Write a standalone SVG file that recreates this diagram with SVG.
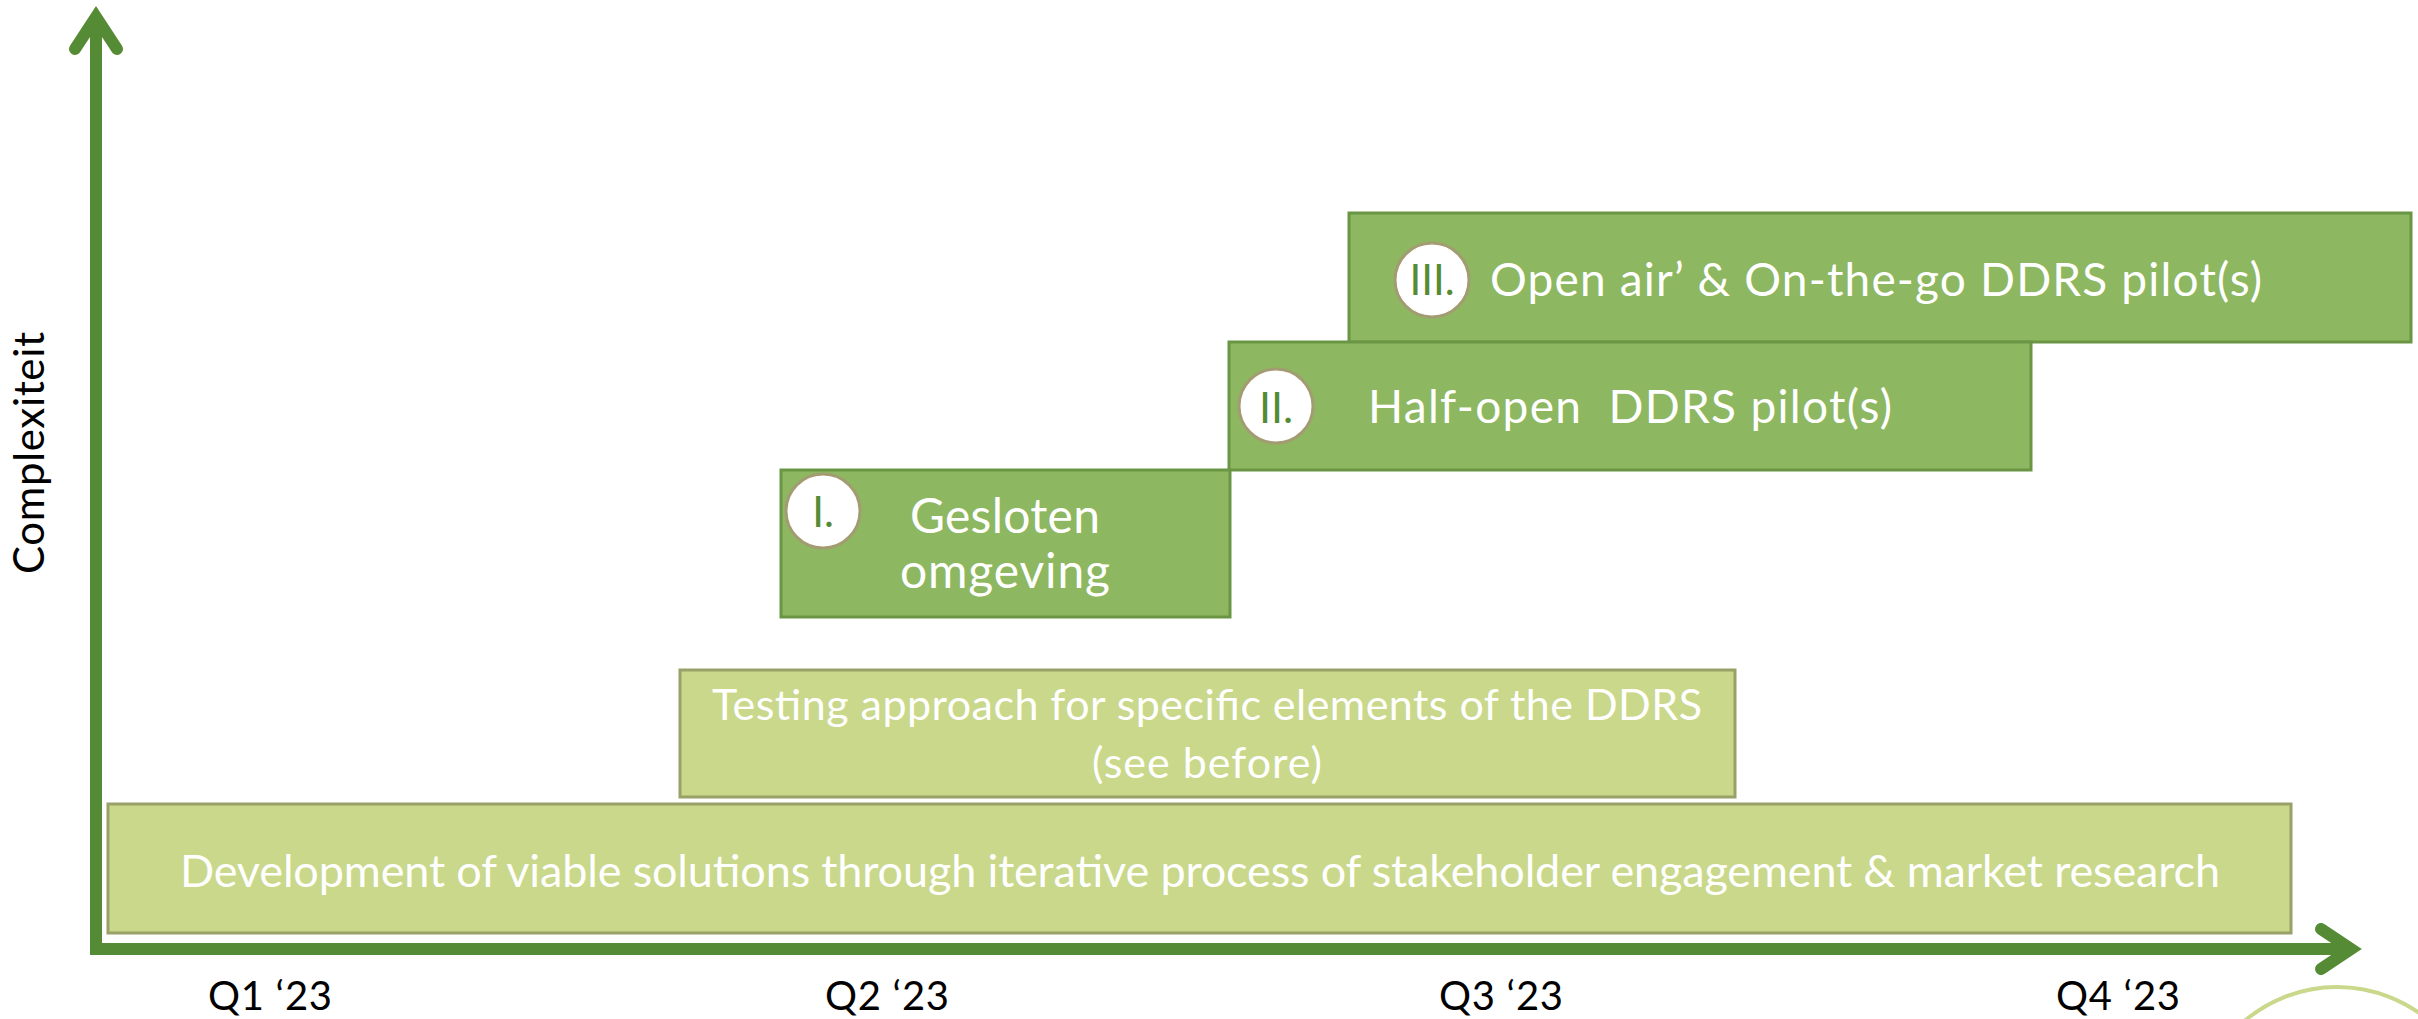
<svg xmlns="http://www.w3.org/2000/svg" width="2418" height="1019" viewBox="0 0 2418 1019">
<style>
.axis{fill:none;stroke:#568B36;stroke-width:12;stroke-linecap:round;stroke-linejoin:miter}
.dark{fill:#8DB760;stroke:#6A9545;stroke-width:3}
.light{fill:#C9D88A;stroke:#99A168;stroke-width:3}
.num{fill:#FFFFFF;stroke:#A39C72;stroke-width:3}
.wt{font-family:Lato,"Liberation Sans",sans-serif;fill:#FFFFFF;text-anchor:middle}
.nt{font-family:Lato,"Liberation Sans",sans-serif;fill:#568B36;text-anchor:middle}
.bt{font-family:Lato,"Liberation Sans",sans-serif;fill:#000000}
</style>
<rect width="2418" height="1019" fill="#FFFFFF"/>
<circle cx="2337" cy="1130" r="143" fill="none" stroke="#C9D88A" stroke-width="4"/>
<g id="connectors">
  <line class="axis" x1="96" y1="954" x2="96" y2="20" style="stroke-linecap:butt"/>
  <polyline class="axis" points="75,49 96,17 117,49"/>
  <line class="axis" x1="90" y1="949" x2="2352" y2="949" style="stroke-linecap:butt"/>
  <polyline class="axis" points="2321,929 2351,949 2321,969"/>
</g>
<g id="node-development">
  <rect class="light" x="108" y="804" width="2183" height="129"/>
  <text class="wt" x="1200" y="887" font-size="45" textLength="2040">Development of viable solutions through iterative process of stakeholder engagement &amp; market research</text>
</g>
<g id="node-testing">
  <rect class="light" x="680" y="670" width="1055" height="127"/>
  <text class="wt" x="1207" y="720" font-size="43" textLength="990">Testing approach for specific elements of the DDRS</text>
  <text class="wt" x="1207" y="778" font-size="43" textLength="230">(see before)</text>
</g>
<g id="node-III">
  <rect class="dark" x="1349" y="213" width="1062" height="129"/>
  <circle class="num" cx="1432" cy="280" r="37"/>
  <text class="nt" x="1432" y="295" font-size="42">III.</text>
  <text class="wt" x="1876" y="296" font-size="46" textLength="772">Open air’ &amp; On-the-go DDRS pilot(s)</text>
</g>
<g id="node-II">
  <rect class="dark" x="1229" y="342" width="802" height="128"/>
  <circle class="num" cx="1276" cy="406" r="37"/>
  <text class="nt" x="1276" y="423" font-size="43">II.</text>
  <text class="wt" x="1630" y="423" font-size="46" textLength="524">Half-open&#160; DDRS pilot(s)</text>
</g>
<g id="node-I">
  <rect class="dark" x="781" y="470" width="449" height="147"/>
  <circle class="num" cx="823" cy="511" r="37"/>
  <text class="nt" x="823" y="527" font-size="42">I.</text>
  <text class="wt" x="1005" y="533" font-size="48" textLength="190">Gesloten</text>
  <text class="wt" x="1005" y="588" font-size="48" textLength="210">omgeving</text>
</g>
<g id="labels">
  <text class="bt" x="208" y="1010" font-size="40" textLength="124">Q1 ‘23</text>
  <text class="bt" x="825" y="1010" font-size="40" textLength="124">Q2 ‘23</text>
  <text class="bt" x="1439" y="1010" font-size="40" textLength="124">Q3 ‘23</text>
  <text class="bt" x="2056" y="1010" font-size="40" textLength="124">Q4 ‘23</text>
  <text class="bt" font-size="42" text-anchor="middle" textLength="242" transform="translate(44,453) rotate(-90)">Complexiteit</text>
</g>
</svg>
